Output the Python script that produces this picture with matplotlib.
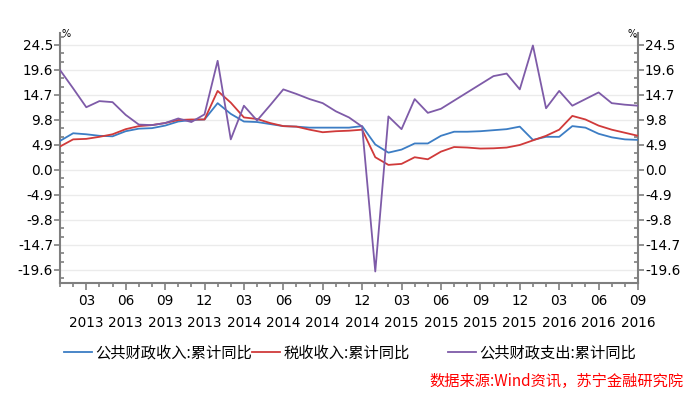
import matplotlib
matplotlib.use("Agg")
import matplotlib.pyplot as plt
from matplotlib.ticker import FixedLocator
import numpy as np

plt.rcParams['font.family'] = ['DejaVu Sans', 'Noto Sans CJK SC']

# Months from Jan 2013 to Sep 2016
years = [2013] * 12 + [2014] * 12 + [2015] * 12 + [2016] * 9
months = list(range(1, 13)) * 3 + list(range(1, 10))

revenue = [5.7, 7.2, 7.0, 6.7, 6.6, 7.6, 8.1, 8.2, 8.7, 9.5, 9.8, 9.9,
           13.1, 11.0, 9.5, 9.4, 9.0, 8.6, 8.5, 8.3, 8.3, 8.3, 8.3, 8.6,
           5.0, 3.4, 4.0, 5.2, 5.2, 6.7, 7.5, 7.5, 7.6, 7.8, 8.0, 8.5,
           5.9, 6.5, 6.5, 8.6, 8.3, 7.1, 6.4, 6.0, 5.9]
tax = [4.6, 6.0, 6.1, 6.5, 7.0, 8.0, 8.6, 8.8, 9.2, 9.8, 9.9, 9.9,
       15.5, 13.2, 10.3, 10.0, 9.2, 8.6, 8.5, 7.9, 7.4, 7.6, 7.7, 7.9,
       2.5, 1.0, 1.2, 2.5, 2.1, 3.6, 4.5, 4.4, 4.2, 4.25, 4.4, 4.9,
       5.8, 6.7, 7.9, 10.6, 9.9, 8.7, 7.9, 7.3, 6.7]
expenditure = [19.6, 16.0, 12.3, 13.5, 13.3, 10.8, 8.9, 8.8, 9.2, 10.1, 9.4, 10.9,
               21.4, 6.0, 12.6, 9.7, 12.7, 15.8, 14.9, 13.9, 13.1, 11.5, 10.3, 8.5,
               -19.9, 10.5, 8.0, 13.9, 11.2, 12.0, 13.6, 15.2, 16.8, 18.4, 18.9, 15.8,
               24.4, 12.1, 15.5, 12.6, 13.9, 15.2, 13.1, 12.8, 12.6]

series_names = ['公共财政收入:累计同比', '税收收入:累计同比', '公共财政支出:累计同比']
colors = ['#3C7DC4', '#D03A3A', '#7E5BA8']
yticks = [24.5, 19.6, 14.7, 9.8, 4.9, 0.0, -4.9, -9.8, -14.7, -19.6]
source_text = '数据来源:Wind资讯，苏宁金融研究院'

fig = plt.figure(figsize=(7.0, 3.93), dpi=100)
W, H = 700, 393
left, right, top, bottom = 60, 638, 33, 283
ax = fig.add_axes([left / W, 1 - bottom / H, (right - left) / W, (bottom - top) / H])

x = np.arange(len(months))
lines = []
for data, c, name in zip([revenue, tax, expenditure], colors, series_names):
    ln, = ax.plot(x, data, color=c, lw=1.3, label=name, zorder=3)
    lines.append(ln)

ax.set_xlim(0, len(months) - 1)
ax.set_ylim(-22.15, 26.85)

# y axis
ax.set_yticks(yticks)
ax.set_yticklabels([f'{v:.1f}' for v in yticks])
step = yticks[0] - yticks[1]
minor_y = [v + k * step / 3 for v in yticks for k in (1, 2)] + [yticks[-1] - step / 3]
ax.yaxis.set_minor_locator(FixedLocator([m for m in minor_y if -22 < m < 26.8]))
ax.tick_params(axis='y', which='major', direction='out', length=4, width=1.2,
               color='#7F7F7F', labelsize=9.8, left=True, right=True,
               labelleft=True, labelright=True, pad=1)
ax.tick_params(axis='y', which='minor', direction='in', length=3, width=1.2,
               color='#7F7F7F', left=True, right=True)

# x axis
major_idx = [i for i, m in enumerate(months) if m % 3 == 0]
ax.set_xticks(major_idx)
ax.set_xticklabels([f'{months[i]:02d}\n{years[i]}' for i in major_idx])
ax.xaxis.set_minor_locator(FixedLocator([i for i in x if i not in major_idx]))
ax.tick_params(axis='x', which='major', direction='out', length=5, width=1.2,
               color='#7F7F7F', labelsize=9.8, pad=3)
ax.tick_params(axis='x', which='minor', direction='out', length=3, width=1.2,
               color='#7F7F7F')
for t in ax.get_xticklabels():
    t.set_linespacing(1.7)

for side in ['left', 'right', 'bottom']:
    ax.spines[side].set_color('#7F7F7F')
    ax.spines[side].set_linewidth(1.5)
ax.spines['top'].set_visible(False)

ax.grid(axis='y', which='major', color='#EBEBEB', lw=1.0, zorder=0)
ax.set_axisbelow(True)

fig.text(62 / W, 1 - 34 / H, '%', fontsize=7, ha='left', va='center')
fig.text(628 / W, 1 - 34 / H, '%', fontsize=7, ha='left', va='center')

# legend (three separate entries)
leg_pos = [64, 252, 448]
for ln, xp in zip(lines, leg_pos):
    fig.legend(handles=[ln], loc='center left', bbox_to_anchor=(xp / W, 1 - 353 / H),
               frameon=False, handlelength=1.8, handletextpad=0.25, borderpad=0,
               borderaxespad=0,
               prop={'family': ['Noto Sans CJK SC', 'DejaVu Sans'], 'size': 11})

fig.text(684 / W, 1 - 381 / H, source_text, color='#FF0000', fontsize=11,
         ha='right', va='center', style='italic',
         family=['Noto Sans CJK SC', 'DejaVu Sans'])

fig.savefig('out.png', dpi=100)
